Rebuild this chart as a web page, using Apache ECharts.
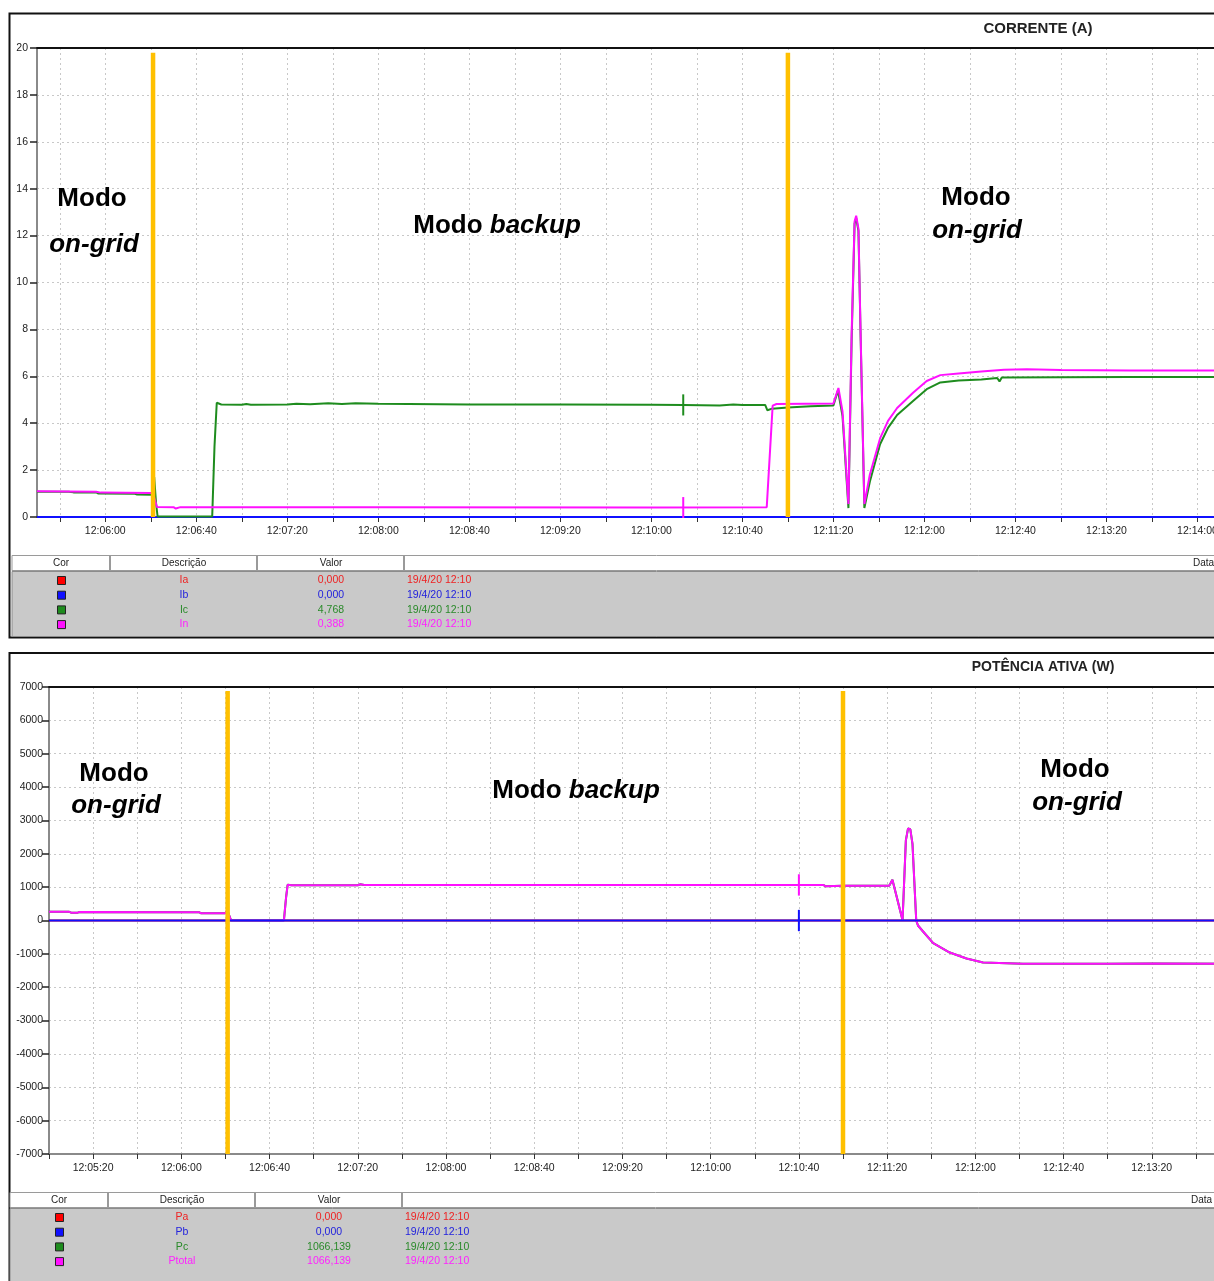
<!DOCTYPE html>
<html>
<head>
<meta charset="utf-8">
<script src="https://cdn.jsdelivr.net/npm/echarts@6/dist/echarts.min.js"></script>
<style>
  html, body { margin: 0; padding: 0; overflow: hidden; background: #ffffff; }
  #chart { width: 1300px; height: 1281px; }
</style>
</head>
<body>
<div id="chart"></div>
<script>
// ---------- Corrente (A) ----------
const iaData = [['12:05:30', 0], ['12:14:20', 0]];
const ibData = [['12:05:30', 0], ['12:14:20', 0]];
const icData = [
  ['12:05:30', 1.08], ['12:05:44', 1.08], ['12:05:46', 1.05], ['12:05:56', 1.05], ['12:05:57', 1.0],
  ['12:06:13', 0.99], ['12:06:14', 0.96], ['12:06:20.5', 0.95], ['12:06:21.5', 1.7], ['12:06:22.3', 0.6],
  ['12:06:23', 0.02], ['12:06:47', 0.02], ['12:06:48', 3.0], ['12:06:49', 4.87], ['12:06:51', 4.8],
  ['12:07:00', 4.79], ['12:07:02', 4.82], ['12:07:04', 4.79], ['12:07:20', 4.8], ['12:07:24', 4.83],
  ['12:07:30', 4.81], ['12:07:38', 4.85], ['12:07:44', 4.82], ['12:07:50', 4.85], ['12:08:00', 4.83],
  ['12:08:40', 4.8], ['12:09:20', 4.8], ['12:10:00', 4.79], ['12:10:14', 4.78], ['12:10:30', 4.76],
  ['12:10:36', 4.8], ['12:10:40', 4.78], ['12:10:50', 4.78], ['12:10:51', 4.55], ['12:10:53', 4.62],
  ['12:11:00', 4.67], ['12:11:10', 4.72], ['12:11:20', 4.76], ['12:11:22', 5.4], ['12:11:24', 4.3],
  ['12:11:26.6', 0.38], ['12:11:28', 7.5], ['12:11:29.3', 12.5], ['12:11:30', 12.75], ['12:11:31', 12.2],
  ['12:11:32', 7.5], ['12:11:33.6', 0.38], ['12:11:36', 1.5], ['12:11:40.5', 3.1], ['12:11:44', 3.8],
  ['12:11:48', 4.35], ['12:11:55', 4.95], ['12:12:01', 5.45], ['12:12:07', 5.74], ['12:12:15', 5.82],
  ['12:12:25', 5.86], ['12:12:32', 5.93], ['12:12:33', 5.78], ['12:12:34', 5.95], ['12:13:00', 5.96],
  ['12:13:30', 5.97], ['12:14:20', 5.97]
];
const inData = [
  ['12:05:30', 1.1], ['12:05:56', 1.08], ['12:05:58', 1.04], ['12:06:20', 1.02], ['12:06:21', 1.0],
  ['12:06:22.7', 0.43], ['12:06:30', 0.42], ['12:06:31', 0.36], ['12:06:33', 0.42], ['12:08:00', 0.42],
  ['12:10:00', 0.41], ['12:10:50.7', 0.42], ['12:10:53.3', 4.75], ['12:10:55', 4.82], ['12:11:20', 4.84],
  ['12:11:22.2', 5.5], ['12:11:24', 4.5], ['12:11:26.6', 0.55], ['12:11:28', 7.8], ['12:11:29.3', 12.6],
  ['12:11:30', 12.85], ['12:11:31', 12.3], ['12:11:32', 7.6], ['12:11:33.6', 0.55], ['12:11:36', 1.8],
  ['12:11:40.5', 3.35], ['12:11:44', 4.1], ['12:11:48', 4.65], ['12:11:55', 5.3], ['12:12:01', 5.8],
  ['12:12:07', 6.05], ['12:12:15', 6.12], ['12:12:25', 6.2], ['12:12:35', 6.28], ['12:12:45', 6.3],
  ['12:13:00', 6.27], ['12:13:30', 6.25], ['12:14:20', 6.25]
];
// cursor marks on the current traces
const icCursor = [['12:10:14', 4.33], ['12:10:14', 5.23]];
const inCursor = [['12:10:14', -0.05], ['12:10:14', 0.85]];

// ---------- Potência ativa (W) ----------
const paData = [['12:05:00', 0], ['12:14:00', 0]];
const pbData = [['12:05:00', 0], ['12:14:00', 0]];
const pcData = [
  ['12:05:00', 265], ['12:05:09', 265], ['12:05:10', 235], ['12:05:13', 235], ['12:05:14', 255],
  ['12:06:08', 248], ['12:06:09', 215], ['12:06:20', 215], ['12:06:20.8', 310], ['12:06:22.5', 10],
  ['12:06:23', 0], ['12:06:46.5', 0], ['12:06:47.5', 700], ['12:06:48.2', 1070], ['12:06:50', 1055],
  ['12:07:20', 1058], ['12:07:21', 1085], ['12:07:23', 1062], ['12:08:00', 1066], ['12:08:40', 1064],
  ['12:09:20', 1066], ['12:10:00', 1065], ['12:10:40', 1066], ['12:10:51', 1066], ['12:10:52', 1030],
  ['12:11:00', 1040], ['12:11:21', 1045], ['12:11:22.4', 1220], ['12:11:24', 800], ['12:11:27', 10],
  ['12:11:28.5', 2400], ['12:11:29.5', 2760], ['12:11:30.5', 2740], ['12:11:31.5', 2300], ['12:11:33.2', 0],
  ['12:11:34', -150], ['12:11:36.3', -330], ['12:11:40.9', -680], ['12:11:48.4', -960], ['12:11:56', -1140],
  ['12:12:03.5', -1260], ['12:12:21.6', -1300], ['12:12:40', -1295], ['12:13:00', -1300], ['12:13:20', -1290],
  ['12:14:00', -1300]
];
const ptotalCursor = [['12:10:40', 746], ['12:10:40', 1386]];
const pbCursor = [['12:10:40', -320], ['12:10:40', 320]];

// mode changes (vertical markers)
const modeSwitchTimes = ['12:06:21', '12:11:00'];

// axis labels
const currentTicks = ['12:06:00', '12:06:40', '12:07:20', '12:08:00', '12:08:40', '12:09:20', '12:10:00',
  '12:10:40', '12:11:20', '12:12:00', '12:12:40', '12:13:20', '12:14:00'];
const powerTicks = ['12:05:20', '12:06:00', '12:06:40', '12:07:20', '12:08:00', '12:08:40', '12:09:20',
  '12:10:00', '12:10:40', '12:11:20', '12:12:00', '12:12:40', '12:13:20', '12:14:00'];

// legend tables
const currentNames = ['Ia', 'Ib', 'Ic', 'In'];
const currentValues = ['0,000', '0,000', '4,768', '0,388'];
const powerNames = ['Pa', 'Pb', 'Pc', 'Ptotal'];
const powerValues = ['0,000', '0,000', '1066,139', '1066,139'];
const stampText = '19/4/20 12:10';

const RED = '#ff0000', BLUE = '#1010ff', GREEN = '#1e8c1e', MAGENTA = '#ff10ff', ORANGE = '#ffc000';
const traceColors = [RED, BLUE, GREEN, MAGENTA];
const textColors = ['#ee2222', '#2222dd', '#2a8a2a', '#ff22ff'];

function sec(s) {
  const p = s.split(':');
  return (+p[0]) * 3600 + (+p[1]) * 60 + parseFloat(p[2]);
}
function hms(v) {
  const t = Math.round(v);
  const h = Math.floor(t / 3600), m = Math.floor((t % 3600) / 60), s = t % 60;
  const pad = n => (n < 10 ? '0' : '') + n;
  return pad(h) + ':' + pad(m) + ':' + pad(s);
}
function pts(arr) { return arr.map(d => [sec(d[0]), d[1]]); }
function everyStep(a, b, step) { const out = []; for (let v = a; v <= b + 1e-6; v += step) out.push(v); return out; }

const FONT = 'Liberation Sans, Arial, sans-serif';

const topMin = sec('12:05:30'), topMax = sec('12:14:20');
const botMin = sec('12:05:00'), botMax = sec('12:14:00');

const gridDash = { color: '#c8c8c8', width: 1, type: [2, 3] };

function timeAxis(grid, min, max, labels) {
  return {
    type: 'value', gridIndex: grid, position: 'bottom', min: min, max: max,
    axisLine: { show: true, onZero: false, lineStyle: { color: '#8a8a8a', width: 2 } },
    axisTick: { show: true, length: 5, customValues: everyStep(min + ((20 - min % 20) % 20), max, 20),
      lineStyle: { color: '#333', width: 1 } },
    axisLabel: { customValues: labels.map(sec), formatter: v => hms(v), color: '#222',
      fontFamily: FONT, fontSize: 10.5, margin: 9 },
    splitLine: { show: true, lineStyle: gridDash }
  };
}
function borderAxis(grid, min, max) {
  return {
    type: 'value', gridIndex: grid, position: 'top', min: min, max: max,
    axisLine: { show: true, onZero: false, lineStyle: { color: '#111', width: 2 } },
    axisTick: { show: false }, axisLabel: { show: false }, splitLine: { show: false }
  };
}
function valueAxis(grid, min, max, step, labelGap) {
  return {
    type: 'value', gridIndex: grid, min: min, max: max, interval: step,
    axisLine: { show: true, onZero: false, lineStyle: { color: '#8a8a8a', width: 2 } },
    axisTick: { show: true, length: 7, lineStyle: { color: '#222', width: 1.5 } },
    axisLabel: { color: '#222', fontFamily: FONT, fontSize: 10.5, margin: labelGap,
      formatter: v => String(v) },
    splitLine: { show: true, lineStyle: gridDash }
  };
}
function trace(name, data, color, xi, yi, z) {
  return {
    name: name, type: 'line', data: pts(data), xAxisIndex: xi, yAxisIndex: yi,
    symbol: 'none', lineStyle: { color: color, width: 2 }, itemStyle: { color: color },
    z: z || 2, animation: false
  };
}
function switchLines(xi, yi, lo, hi) {
  return modeSwitchTimes.map((t, i) => ({
    name: 'modo' + i, type: 'line', xAxisIndex: xi, yAxisIndex: yi,
    data: [[sec(t), lo], [sec(t), hi]], symbol: 'none',
    lineStyle: { color: ORANGE, width: 4.5 }, z: 10, animation: false
  }));
}

// legend table under each plot
function legendTable(x0, y0, names, values, bodyHeight) {
  const els = [];
  els.push({ type: 'rect', shape: { x: x0 + 12, y: y0, width: 1300, height: 15 },
    style: { fill: '#ffffff', stroke: '#9a9a9a', lineWidth: 1 } });
  [110, 257, 404].forEach(cx => els.push({ type: 'line',
    shape: { x1: x0 + cx, y1: y0, x2: x0 + cx, y2: y0 + 15 }, style: { stroke: '#9a9a9a', lineWidth: 2 } }));
  els.push({ type: 'rect', shape: { x: x0 + 12, y: y0 + 16, width: 1300, height: bodyHeight },
    style: { fill: '#c9c9c9', stroke: '#8c8c8c', lineWidth: 1 } });
  const hdr = [['Cor', 61], ['Descrição', 184], ['Valor', 331]];
  hdr.forEach(h => els.push({ type: 'text', x: x0 + h[1], y: y0 + 8,
    style: { text: h[0], fill: '#222', font: '10px ' + FONT, textAlign: 'center', textVerticalAlign: 'middle' } }));
  els.push({ type: 'text', x: x0 + 1193, y: y0 + 8,
    style: { text: 'Data', fill: '#222', font: '10px ' + FONT, textAlign: 'left', textVerticalAlign: 'middle' } });
  names.forEach((n, i) => {
    const ry = y0 + 25 + i * 14.7;
    els.push({ type: 'rect', shape: { x: x0 + 57.5, y: ry - 4, width: 8, height: 8 },
      style: { fill: traceColors[i], stroke: '#222', lineWidth: 1 } });
    els.push({ type: 'text', x: x0 + 184, y: ry, style: { text: n, fill: textColors[i],
      font: '10.5px ' + FONT, textAlign: 'center', textVerticalAlign: 'middle' } });
    els.push({ type: 'text', x: x0 + 331, y: ry, style: { text: values[i], fill: textColors[i],
      font: '10.5px ' + FONT, textAlign: 'center', textVerticalAlign: 'middle' } });
    els.push({ type: 'text', x: x0 + 407, y: ry, style: { text: stampText, fill: textColors[i],
      font: '10.5px ' + FONT, textAlign: 'left', textVerticalAlign: 'middle' } });
  });
  return els;
}

function label(text, x, y, italic) {
  return { type: 'text', x: x, y: y, z: 100, style: { text: text, fill: '#000',
    font: (italic ? 'italic ' : '') + 'bold 26px ' + FONT, textAlign: 'center', textVerticalAlign: 'middle' } };
}
function backupLabel(x, y) {
  return { type: 'text', x: x, y: y, z: 100, style: {
    text: '{a|Modo }{b|backup}', textAlign: 'center', textVerticalAlign: 'middle',
    rich: { a: { font: 'bold 26px ' + FONT, fill: '#000' }, b: { font: 'italic bold 26px ' + FONT, fill: '#000' } } } };
}

const graphics = [
  { type: 'rect', shape: { x: 9.5, y: 13.5, width: 1300, height: 624 }, style: { fill: 'none', stroke: '#111', lineWidth: 2 } },
  { type: 'rect', shape: { x: 9.5, y: 653, width: 1300, height: 700 }, style: { fill: 'none', stroke: '#111', lineWidth: 2 } },
  { type: 'text', x: 1038, y: 29, style: { text: 'CORRENTE (A)', fill: '#222', font: 'bold 15px ' + FONT,
    textAlign: 'center', textVerticalAlign: 'middle' } },
  { type: 'text', x: 1043, y: 667, style: { text: 'POTÊNCIA ATIVA (W)', fill: '#222', font: 'bold 14px ' + FONT,
    textAlign: 'center', textVerticalAlign: 'middle' } },
  label('Modo', 92, 199, false), label('on-grid', 94, 245, true), backupLabel(497, 226),
  label('Modo', 976, 198, false), label('on-grid', 977, 231, true),
  label('Modo', 114, 774, false), label('on-grid', 116, 806, true), backupLabel(576, 791),
  label('Modo', 1075, 770, false), label('on-grid', 1077, 803, true)
].concat(legendTable(0, 555.5, currentNames, currentValues, 65))
 .concat(legendTable(-2, 1192.5, powerNames, powerValues, 100));

// Ptotal = Pa + Pb + Pc (Pa and Pb are zero over the whole record)
const ptotalData = pcData.map((d, i) => [d[0], d[1] + 0 + 0]);

const option = {
  animation: false,
  backgroundColor: '#ffffff',
  grid: [
    { left: 37, top: 48, width: 1206, height: 469 },
    { left: 49, top: 687, width: 1191, height: 467 }
  ],
  xAxis: [
    timeAxis(0, topMin, topMax, currentTicks),
    borderAxis(0, topMin, topMax),
    timeAxis(1, botMin, botMax, powerTicks),
    borderAxis(1, botMin, botMax)
  ],
  yAxis: [
    valueAxis(0, 0, 20, 2, 9),
    valueAxis(1, -7000, 7000, 1000, 6)
  ],
  series: [
    trace('Ia', iaData, RED, 0, 0, 2),
    trace('Ib', ibData, BLUE, 0, 0, 3),
    trace('Ic', icData, GREEN, 0, 0, 4),
    trace('In', inData, MAGENTA, 0, 0, 5),
    trace('Ic cursor', icCursor, GREEN, 0, 0, 4),
    trace('In cursor', inCursor, MAGENTA, 0, 0, 5),
    trace('Pa', paData, RED, 2, 1, 2),
    trace('Pc', pcData, GREEN, 2, 1, 3),
    trace('Ptotal', ptotalData, MAGENTA, 2, 1, 4),
    trace('Pb', pbData, BLUE, 2, 1, 5),
    trace('Ptotal cursor', ptotalCursor, MAGENTA, 2, 1, 4),
    trace('Pb cursor', pbCursor, BLUE, 2, 1, 5)
  ].concat(switchLines(0, 0, 0, 19.8)).concat(switchLines(2, 1, -7000, 6880)),
  graphic: graphics
};

const chart = echarts.init(document.getElementById('chart'), null, { renderer: 'canvas' });
chart.setOption(option);
</script>
</body>
</html>
